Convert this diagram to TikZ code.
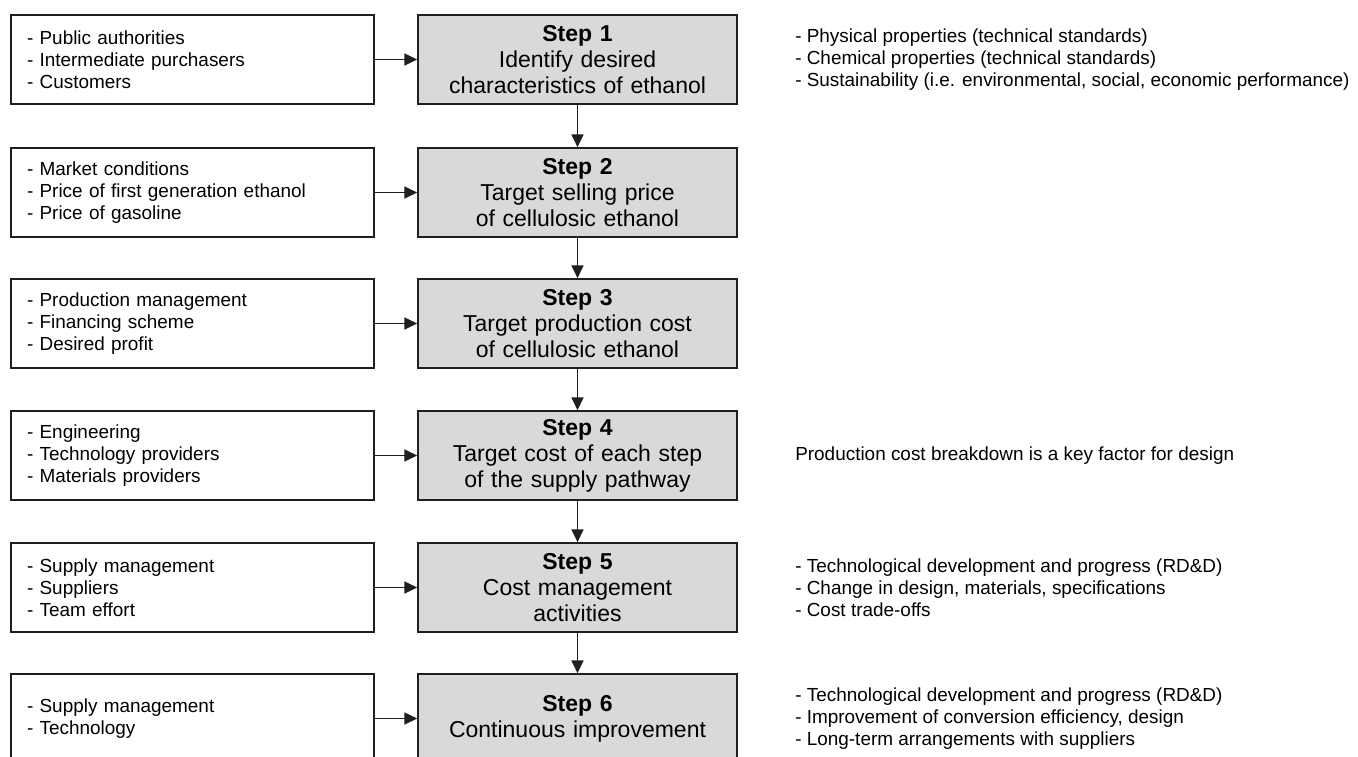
\documentclass[tikz,border=0pt]{standalone}
\usepackage{fontspec}
\setmainfont{Liberation Sans}
\usetikzlibrary{arrows.meta}

\begin{document}
\begin{tikzpicture}[x=0.75pt,y=-0.75pt,
    inbox/.style={draw=black!88, line width=1.3pt, fill=white, inner xsep=12pt, inner ysep=0pt,
        text width=248.25pt, align=left, minimum height=66.75pt, font=\fontsize{14.2}{16.5}\selectfont},
    stepbox/.style={draw=black!88, line width=1.3pt, fill=black!15, inner sep=0pt,
        text width=239.25pt, align=center, minimum height=66.75pt, font=\fontsize{17.25}{19.5}\selectfont},
    note/.style={anchor=west, inner sep=0pt, align=left, font=\fontsize{14.2}{16.5}\selectfont},
    arr/.style={-{Triangle[length=9.5pt,width=9pt]}, line width=1.1pt, draw=black!88}]
    \useasboundingbox (0,0) rectangle (1358,756);

    % Step Boxes
    \node[stepbox] (s1) at (577.5,59.5)  {\textbf{Step 1}\\Identify desired\\characteristics of ethanol};
    \node[stepbox] (s2) at (577.5,192.5) {\textbf{Step 2}\\Target selling price\\of cellulosic ethanol};
    \node[stepbox] (s3) at (577.5,323.5) {\textbf{Step 3}\\Target production cost\\of cellulosic ethanol};
    \node[stepbox] (s4) at (577.5,455.5) {\textbf{Step 4}\\Target cost of each step\\of the supply pathway};
    \node[stepbox] (s5) at (577.5,587.5) {\textbf{Step 5}\\Cost management\\activities};
    \node[stepbox] (s6) at (577.5,718.5) {\textbf{Step 6}\\Continuous improvement};

    % Input Boxes
    % -- left side
    \node[inbox] (in1) at (192.5,59.5)  {- Public authorities\\- Intermediate purchasers\\- Customers};
    \node[inbox] (in2) at (192.5,192.5) {- Market conditions\\- Price of first generation ethanol\\- Price of gasoline};
    \node[inbox] (in3) at (192.5,323.5) {- Production management\\- Financing scheme\\- Desired profit};
    \node[inbox] (in4) at (192.5,455.5) {- Engineering\\- Technology providers\\- Materials providers};
    \node[inbox] (in5) at (192.5,587.5) {- Supply management\\- Suppliers\\- Team effort};
    \node[inbox] (in6) at (192.5,718.5) {- Supply management\\- Technology};

    % Notes
    % -- right side
    \node[note] (n1) at (795,59.5)  {- Physical properties (technical standards)\\- Chemical properties (technical standards)\\- Sustainability (i.e. environmental, social, economic performance)};
    \node[note] (n4) at (795,455.5) {Production cost breakdown is a key factor for design};
    \node[note] (n5) at (795,587.5) {- Technological development and progress (RD\&D)\\- Change in design, materials, specifications\\- Cost trade-offs};
    \node[note] (n6) at (795,718.5) {- Technological development and progress (RD\&D)\\- Improvement of conversion efficiency, design\\- Long-term arrangements with suppliers};

    % Arrows
    \draw[arr] (in1) -- (s1);
    \draw[arr] (in2) -- (s2);
    \draw[arr] (in3) -- (s3);
    \draw[arr] (in4) -- (s4);
    \draw[arr] (in5) -- (s5);
    \draw[arr] (in6) -- (s6);

    \draw[arr] (s1) -- (s2);
    \draw[arr] (s2) -- (s3);
    \draw[arr] (s3) -- (s4);
    \draw[arr] (s4) -- (s5);
    \draw[arr] (s5) -- (s6);
\end{tikzpicture}
\end{document}
